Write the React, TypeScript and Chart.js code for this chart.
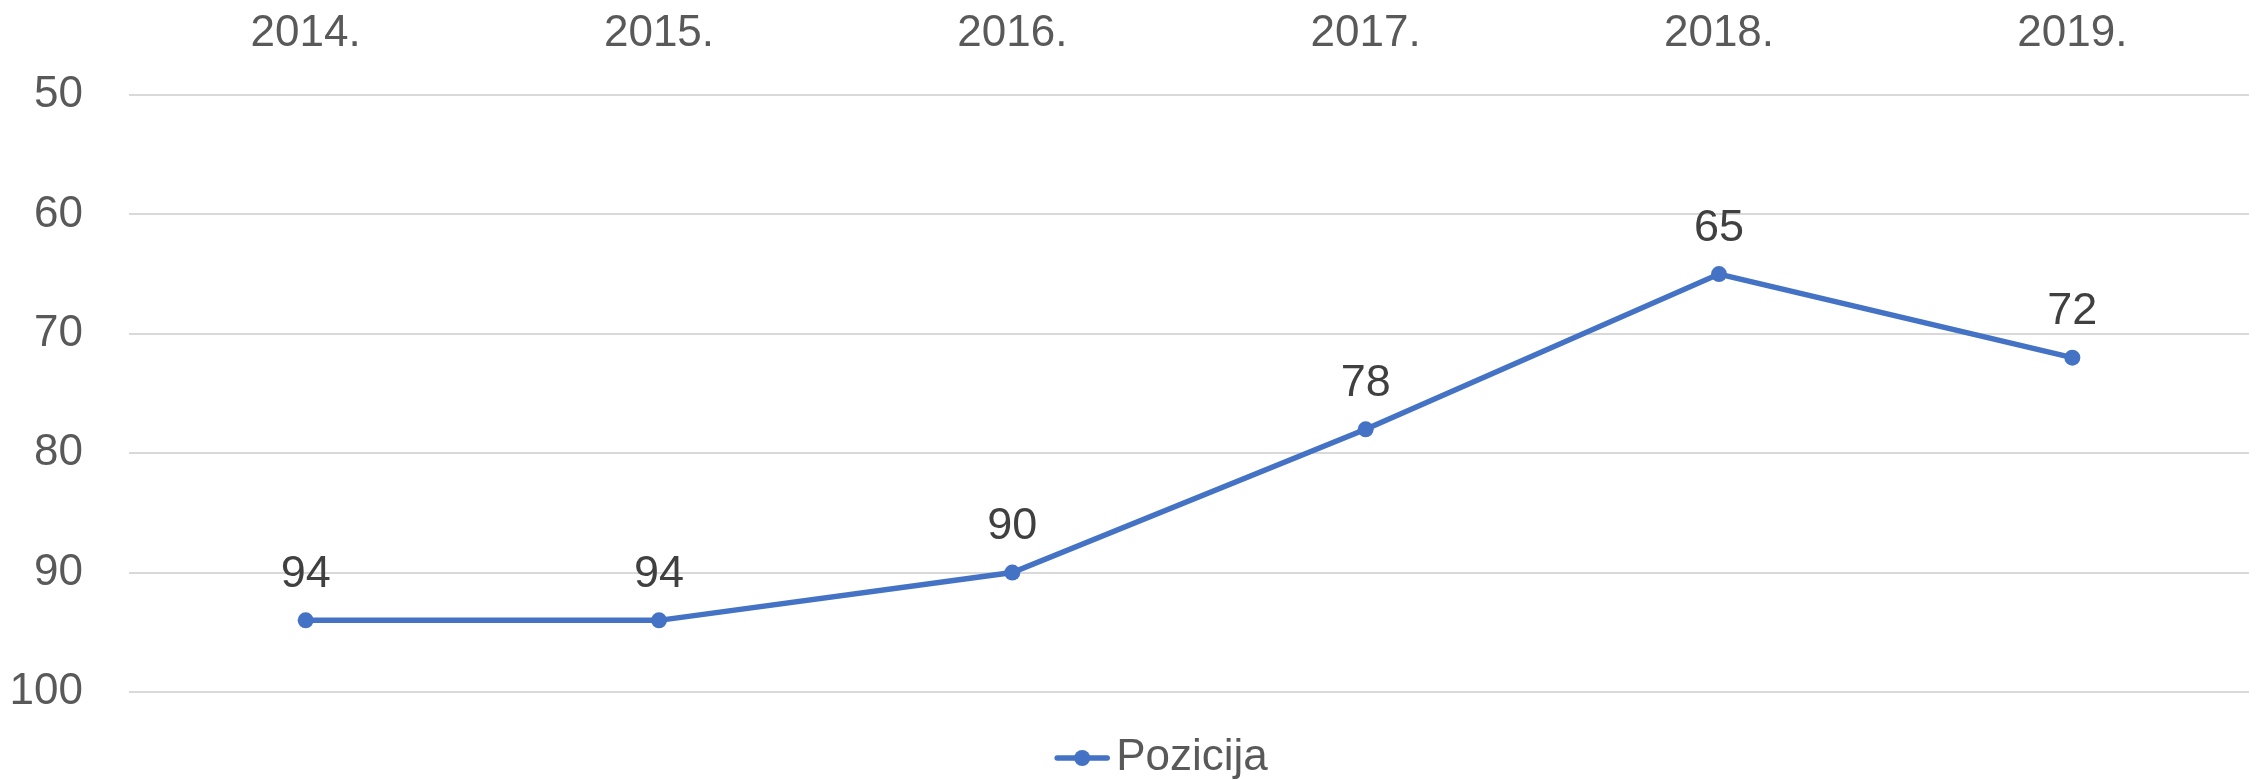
import React, { useEffect, useRef } from "react";
import { Chart, registerables } from "chart.js";

Chart.register(...registerables);

const categories = ["2014.", "2015.", "2016.", "2017.", "2018.", "2019."];
const pozicija = [94, 94, 90, 78, 65, 72];
const seriesName = "Pozicija";
const yMin = 50;
const yMax = 100;
const yStep = 10;

const BLUE = "#4472C4";
const FONT = "'Liberation Sans', Arial, sans-serif";

const dataLabels = {
  id: "dataLabels",
  afterDatasetsDraw(chart: any) {
    const ctx = chart.ctx;
    chart.data.datasets.forEach((ds: any, di: number) => {
      const meta = chart.getDatasetMeta(di);
      meta.data.forEach((pt: any, i: number) => {
        ctx.save();
        ctx.font = `45px ${FONT}`;
        ctx.fillStyle = "#404040";
        ctx.textAlign = "center";
        ctx.textBaseline = "middle";
        ctx.fillText(String(ds.data[i]), pt.x, pt.y - 46);
        ctx.restore();
      });
    });
  },
};

const customLegend = {
  id: "customLegend",
  afterDraw(chart: any) {
    const ctx = chart.ctx;
    const ds = chart.data.datasets[0];
    ctx.save();
    ctx.font = `44px ${FONT}`;
    const tw = ctx.measureText(ds.label).width;
    const lineW = 56;
    const gap = 6;
    const total = lineW + gap + tw;
    const cx = (chart.chartArea.left + chart.chartArea.right) / 2 - 28;
    const x0 = cx - total / 2;
    const y = chart.chartArea.bottom + 66;
    ctx.strokeStyle = BLUE;
    ctx.lineWidth = 5.5;
    ctx.lineCap = "round";
    ctx.beginPath();
    ctx.moveTo(x0 + 3, y);
    ctx.lineTo(x0 + lineW - 3, y);
    ctx.stroke();
    ctx.fillStyle = BLUE;
    ctx.beginPath();
    ctx.arc(x0 + lineW / 2, y, 8, 0, Math.PI * 2);
    ctx.fill();
    ctx.fillStyle = "#595959";
    ctx.textAlign = "left";
    ctx.textBaseline = "middle";
    ctx.fillText(ds.label, x0 + lineW + gap, y);
    ctx.restore();
  },
};

export default function App() {
  const ref = useRef<HTMLCanvasElement>(null);
  useEffect(() => {
    document.body.style.margin = "0";
    const chart = new Chart(ref.current!, {
      type: "line",
      data: {
        labels: categories,
        datasets: [
          {
            label: seriesName,
            data: pozicija,
            borderColor: BLUE,
            backgroundColor: BLUE,
            borderWidth: 5.5,
            pointRadius: 8,
            pointBackgroundColor: BLUE,
            pointBorderWidth: 0,
            tension: 0,
            fill: false,
          },
        ],
      },
      options: {
        responsive: false,
        animation: false,
        layout: { padding: { left: 0, right: 0, top: 0, bottom: 88 } },
        scales: {
          x: {
            position: "top",
            offset: true,
            grid: { display: false, drawTicks: false },
            border: { display: false },
            ticks: {
              color: "#595959",
              font: { family: FONT, size: 44 },
              padding: 35,
            },
            afterFit: (s: any) => {
              s.height = 95;
            },
          },
          y: {
            reverse: true,
            min: yMin,
            max: yMax,
            grid: { color: "#d9d9d9", lineWidth: 2, drawTicks: false },
            border: { display: false },
            ticks: {
              stepSize: yStep,
              color: "#595959",
              font: { family: FONT, size: 44 },
              padding: 46,
            },
            afterFit: (s: any) => {
              s.width = 129;
            },
          },
        },
        plugins: {
          tooltip: { enabled: false },
          legend: { display: false },
        },
      },
      plugins: [dataLabels, customLegend],
    });
    return () => chart.destroy();
  }, []);
  return (
    <div style={{ width: 2257, height: 780 }}>
      <canvas ref={ref} width={2257} height={780} />
    </div>
  );
}
